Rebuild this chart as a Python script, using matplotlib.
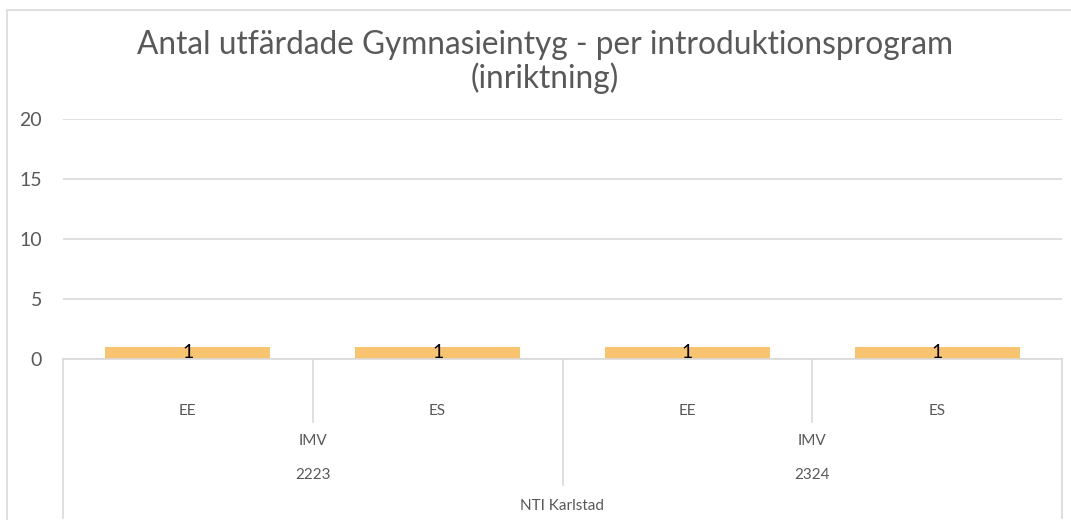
import matplotlib
matplotlib.use("Agg")
import matplotlib.pyplot as plt
from matplotlib.transforms import blended_transform_factory
from matplotlib.patches import Rectangle

# Data
level1 = ["EE", "ES", "EE", "ES"]          # inriktning
level2 = ["IMV", "IMV"]                    # program
level3 = ["2223", "2324"]                  # läsår
level4 = ["NTI Karlstad"]                  # skola
values = [1, 1, 1, 1]
yticks = [0, 5, 10, 15, 20]
title_lines = ["Antal utfärdade Gymnasieintyg - per introduktionsprogram", "(inriktning)"]

W, H = 1071, 520
plt.rcParams['font.family'] = ['Lato', 'DejaVu Sans']
fig = plt.figure(figsize=(W / 100, H / 100), dpi=100)
fig.patch.set_facecolor("white")

gray = "#595959"
grid = "#d9d9d9"

# chart border
fig.patches.append(Rectangle((7 / W, -0.1), 1.2, 1 - 10 / H + 0.1, transform=fig.transFigure,
                             fill=False, edgecolor=grid, linewidth=1.2, zorder=0))

ax = fig.add_axes([63 / W, 1 - 359 / H, (1062 - 63) / W, (359 - 119) / H])
x = list(range(len(values)))
bars = ax.bar(x, values, width=0.66, color="#F9C46F", zorder=2)

ax.set_xlim(-0.5, len(values) - 0.5)
ax.set_ylim(0, 20)
ax.set_yticks(yticks)
ax.set_yticklabels([str(t) for t in yticks], fontsize=14, color=gray)
ax.tick_params(axis="y", length=0, pad=15)
ax.set_xticks([])
for s in ["top", "right", "left"]:
    ax.spines[s].set_visible(False)
ax.spines["bottom"].set_color(grid)
ax.spines["bottom"].set_linewidth(1.2)
ax.yaxis.grid(True, color=grid, linewidth=1.2, zorder=0)
ax.set_axisbelow(True)

tr = blended_transform_factory(ax.transData, fig.transFigure)
def fy(py):
    return 1 - py / H

# data labels
for xi, v in zip(x, values):
    ax.text(xi, fy(353), str(v), transform=tr, ha="center", va="center", fontsize=14,
            color="black", zorder=3)

# multi-level category axis
def vline(xv, y_end):
    ax.plot([xv, xv], [fy(359), fy(y_end)], transform=tr, color=grid, lw=1.2, clip_on=False)

vline(-0.5, 518)
vline(0.5, 422)
vline(1.5, 485)
vline(2.5, 422)
vline(3.5, 518)

for xi, lab in enumerate(level1):
    ax.text(xi, fy(411), lab, transform=tr, ha="center", va="center", fontsize=11, color=gray)
for gi, lab in enumerate(level2):
    ax.text(gi * 2 + 0.5, fy(441), lab, transform=tr, ha="center", va="center", fontsize=11, color=gray)
for gi, lab in enumerate(level3):
    ax.text(gi * 2 + 0.5, fy(475), lab, transform=tr, ha="center", va="center", fontsize=11, color=gray)
ax.text(1.5, fy(506), level4[0], transform=tr, ha="center", va="center", fontsize=11, color=gray)

fig.text(545 / W, fy(45), title_lines[0], ha="center", va="center", fontsize=22.8, color=gray)
fig.text(545 / W, fy(78), title_lines[1], ha="center", va="center", fontsize=22.8, color=gray)

fig.savefig("out.png", dpi=100, facecolor="white")
